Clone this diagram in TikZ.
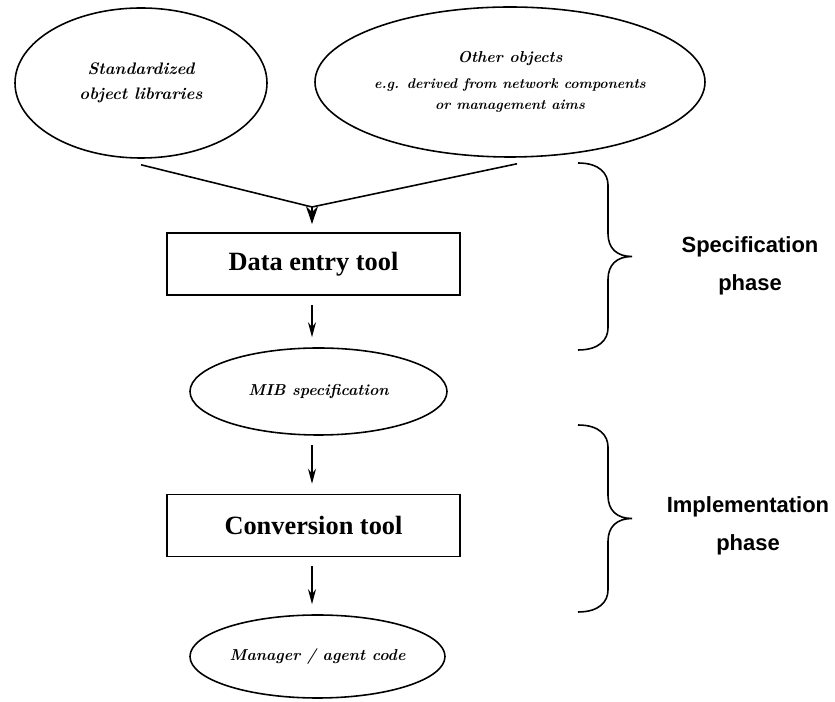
\documentclass[tikz,border=0pt]{standalone}
\usepackage{fontspec}
\newfontfamily\blokletter{Liberation Serif}
\newfontfamily\faseletter{Liberation Sans}
\usetikzlibrary{shapes.geometric,arrows.meta,calc}

\begin{document}
\begin{tikzpicture}[>={Stealth[length=3mm,width=1.6mm]}]

% --- Stijlen ---
\tikzset{
    ovaal/.style={
        ellipse,
        draw=black,
        line width=0.9pt,
        inner sep=0pt,
        align=center,
        font=\bfseries\itshape\fontsize{9.5}{14}\selectfont
    },
    klein/.style={
        font=\bfseries\itshape\fontsize{9}{14}\selectfont
    },
    blok/.style={
        rectangle,
        draw=black,
        line width=0.9pt,
        minimum width=5.86cm,
        minimum height=1.24cm,
        font=\blokletter\bfseries\fontsize{15}{18}\selectfont
    },
    stroom/.style={
        ->,
        line width=0.9pt,
        shorten <=0.18cm,
        shorten >=0.2cm
    },
    fase/.style={
        align=center,
        font=\faseletter\bfseries\fontsize{12.5}{21.6}\selectfont
    },
    accolade/.style={
        line width=0.9pt
    }
}

\useasboundingbox (0,0) rectangle (16.7,-14.04);

% --- Knooppunten ---

% Bronnen (boven)
\node[ovaal, minimum width=5.04cm, minimum height=3cm] (lib) at (2.82,-1.66)
    {Standardized\\object libraries};
\node[ovaal, klein, minimum width=7.8cm, minimum height=3cm] (overig) at (10.2,-1.64)
    {Other objects\\[1pt]
     \fontsize{8}{12}\selectfont e.g. derived from network components\\[-2pt]
     \fontsize{8}{12}\selectfont or management aims};

% Gereedschappen en resultaten
\node[blok] (invoer) at (6.27,-5.28) {Data entry tool};
\node[ovaal, klein, minimum width=5.14cm, minimum height=1.74cm] (mib) at (6.37,-7.83)
    {MIB specification};
\node[blok] (conversie) at (6.27,-10.51) {Conversion tool};
\node[ovaal, klein, minimum width=5.1cm, minimum height=1.66cm] (code) at (6.35,-13.13)
    {Manager /\ agent code};

% Fasen
\node[fase] (spec) at (15.0,-5.32) {Specification\\phase};
\node[fase] (impl) at (14.96,-10.52) {Implementation\\phase};

% Samenkomst van de twee bronnen
\coordinate (samen) at (6.24,-4.14);

% Begin van de accolades
\coordinate (acc1) at (11.56,-3.26);
\coordinate (acc2) at (11.56,-8.5);

% --- Verbindingen ---
\draw[line width=0.9pt] ($(lib.south)+(0,-0.12)$) -- (samen);
\draw[line width=0.9pt] ($(overig.south)+(0.14,-0.12)$) -- (samen);
\draw[stroom, -{Stealth[length=3.6mm,width=2.4mm]}, shorten <=0pt, shorten >=0.16cm]
    (samen) -- (invoer.north -| samen);

\draw[stroom] (invoer.south -| samen) -- (mib.north -| samen);
\draw[stroom] (mib.south -| samen) -- (conversie.north -| samen);
\draw[stroom] (conversie.south -| samen) -- (code.north -| samen);

% --- Accolades ---
\draw[accolade] (acc1)
    .. controls +(0.44,0) and +(0,0.22) .. ++(0.6,-0.44)
    -- ++(0,-0.97)
    .. controls +(0,-0.3) and +(-0.3,0) .. ++(0.48,-0.46)
    .. controls +(-0.3,0) and +(0,0.3) .. ++(-0.48,-0.46)
    -- ++(0,-0.97)
    .. controls +(0,-0.22) and +(0.44,0) .. ++(-0.6,-0.44);
\draw[accolade] (acc2)
    .. controls +(0.44,0) and +(0,0.22) .. ++(0.6,-0.44)
    -- ++(0,-0.97)
    .. controls +(0,-0.3) and +(-0.3,0) .. ++(0.48,-0.46)
    .. controls +(-0.3,0) and +(0,0.3) .. ++(-0.48,-0.46)
    -- ++(0,-0.97)
    .. controls +(0,-0.22) and +(0.44,0) .. ++(-0.6,-0.44);

\end{tikzpicture}
\end{document}
